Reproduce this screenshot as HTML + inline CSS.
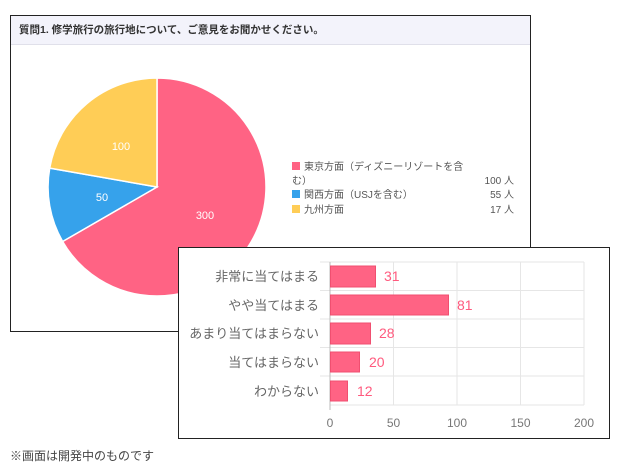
<!DOCTYPE html>
<html><head><meta charset="utf-8"><style>
body{margin:0;width:620px;height:474px;background:#fff;position:relative;overflow:hidden;font-family:"Liberation Sans","Noto Sans CJK JP",sans-serif;}
.a{position:absolute;}
</style></head><body>
<div class="a" style="left:10px;top:15px;width:519px;height:315px;border:1px solid #222;background:#fff"></div>
<div class="a" style="left:11px;top:16px;width:519px;height:28px;background:#f3f3fb;border-bottom:1px solid #e0e0ea"></div>
<div class="a" style="left:19px;top:22px;font-size:10.5px;font-weight:bold;color:#333">質問1. 修学旅行の旅行地について、ご意見をお聞かせください。</div>
<svg class="a" style="left:0;top:0" width="620" height="474">
<path d="M157,187 L157,78 A109,109 0 1 1 62.6,241.5 Z" fill="#ff6384" stroke="#fff" stroke-width="1.5"/>
<path d="M157,187 L62.6,241.5 A109,109 0 0 1 49.7,168.1 Z" fill="#36a2eb" stroke="#fff" stroke-width="1.5"/>
<path d="M157,187 L49.7,168.1 A109,109 0 0 1 157,78 Z" fill="#ffcd56" stroke="#fff" stroke-width="1.5"/>
<g font-size="11" fill="#fff" text-anchor="middle"><text x="205" y="219">300</text><text x="102" y="201">50</text><text x="121" y="150">100</text></g>
<g font-size="10" fill="#555">
<rect x="292" y="162" width="8" height="8" fill="#ff6384"/><text x="304" y="170">東京方面（ディズニーリゾートを含</text>
<text x="292" y="184">む）</text><text x="514" y="184" text-anchor="end">100 人</text>
<rect x="292" y="190" width="8" height="8" fill="#36a2eb"/><text x="304" y="198">関西方面（USJを含む）</text><text x="514" y="198" text-anchor="end">55 人</text>
<rect x="292" y="205" width="8" height="8" fill="#ffcd56"/><text x="304" y="213">九州方面</text><text x="514" y="213" text-anchor="end">17 人</text>
</g>
</svg>
<div class="a" style="left:178px;top:247px;width:430px;height:190px;border:1px solid #222;background:#fff"></div>
<svg class="a" style="left:0;top:0" width="620" height="474">
<g stroke="#e6e6e6" stroke-width="1">
<line x1="393.5" y1="262" x2="393.5" y2="405"/><line x1="457" y1="262" x2="457" y2="405"/><line x1="520.5" y1="262" x2="520.5" y2="405"/><line x1="584" y1="262" x2="584" y2="405"/>
<line x1="320" y1="262" x2="584" y2="262"/><line x1="320" y1="290.5" x2="584" y2="290.5"/><line x1="320" y1="319" x2="584" y2="319"/><line x1="320" y1="347.5" x2="584" y2="347.5"/><line x1="320" y1="376" x2="584" y2="376"/>
<line x1="330" y1="405" x2="584" y2="405"/>
</g>
<line x1="330" y1="262" x2="330" y2="410" stroke="#bbb"/>
<g fill="#ff6384" stroke="#f04f70">
<rect x="330.5" y="266" width="45" height="21"/><rect x="330.5" y="295" width="118" height="20"/><rect x="330.5" y="323" width="40" height="21"/><rect x="330.5" y="352" width="29" height="20"/><rect x="330.5" y="381" width="17" height="20"/>
</g>
<g fill="#ff5a7e" font-size="14"><text x="384" y="281">31</text><text x="457" y="310">81</text><text x="379" y="338">28</text><text x="369" y="367">20</text><text x="357" y="396">12</text></g>
<g fill="#666" font-size="13" text-anchor="end"><text x="319" y="281">非常に当てはまる</text><text x="319" y="310">やや当てはまる</text><text x="319" y="338">あまり当てはまらない</text><text x="319" y="367">当てはまらない</text><text x="319" y="396">わからない</text></g>
<g fill="#777" font-size="12" text-anchor="middle"><text x="330" y="427">0</text><text x="393.5" y="427">50</text><text x="457" y="427">100</text><text x="520.5" y="427">150</text><text x="584" y="427">200</text></g>
</svg>
<div class="a" style="left:10px;top:447px;font-size:12px;color:#444">※画面は開発中のものです</div>
</body></html>
